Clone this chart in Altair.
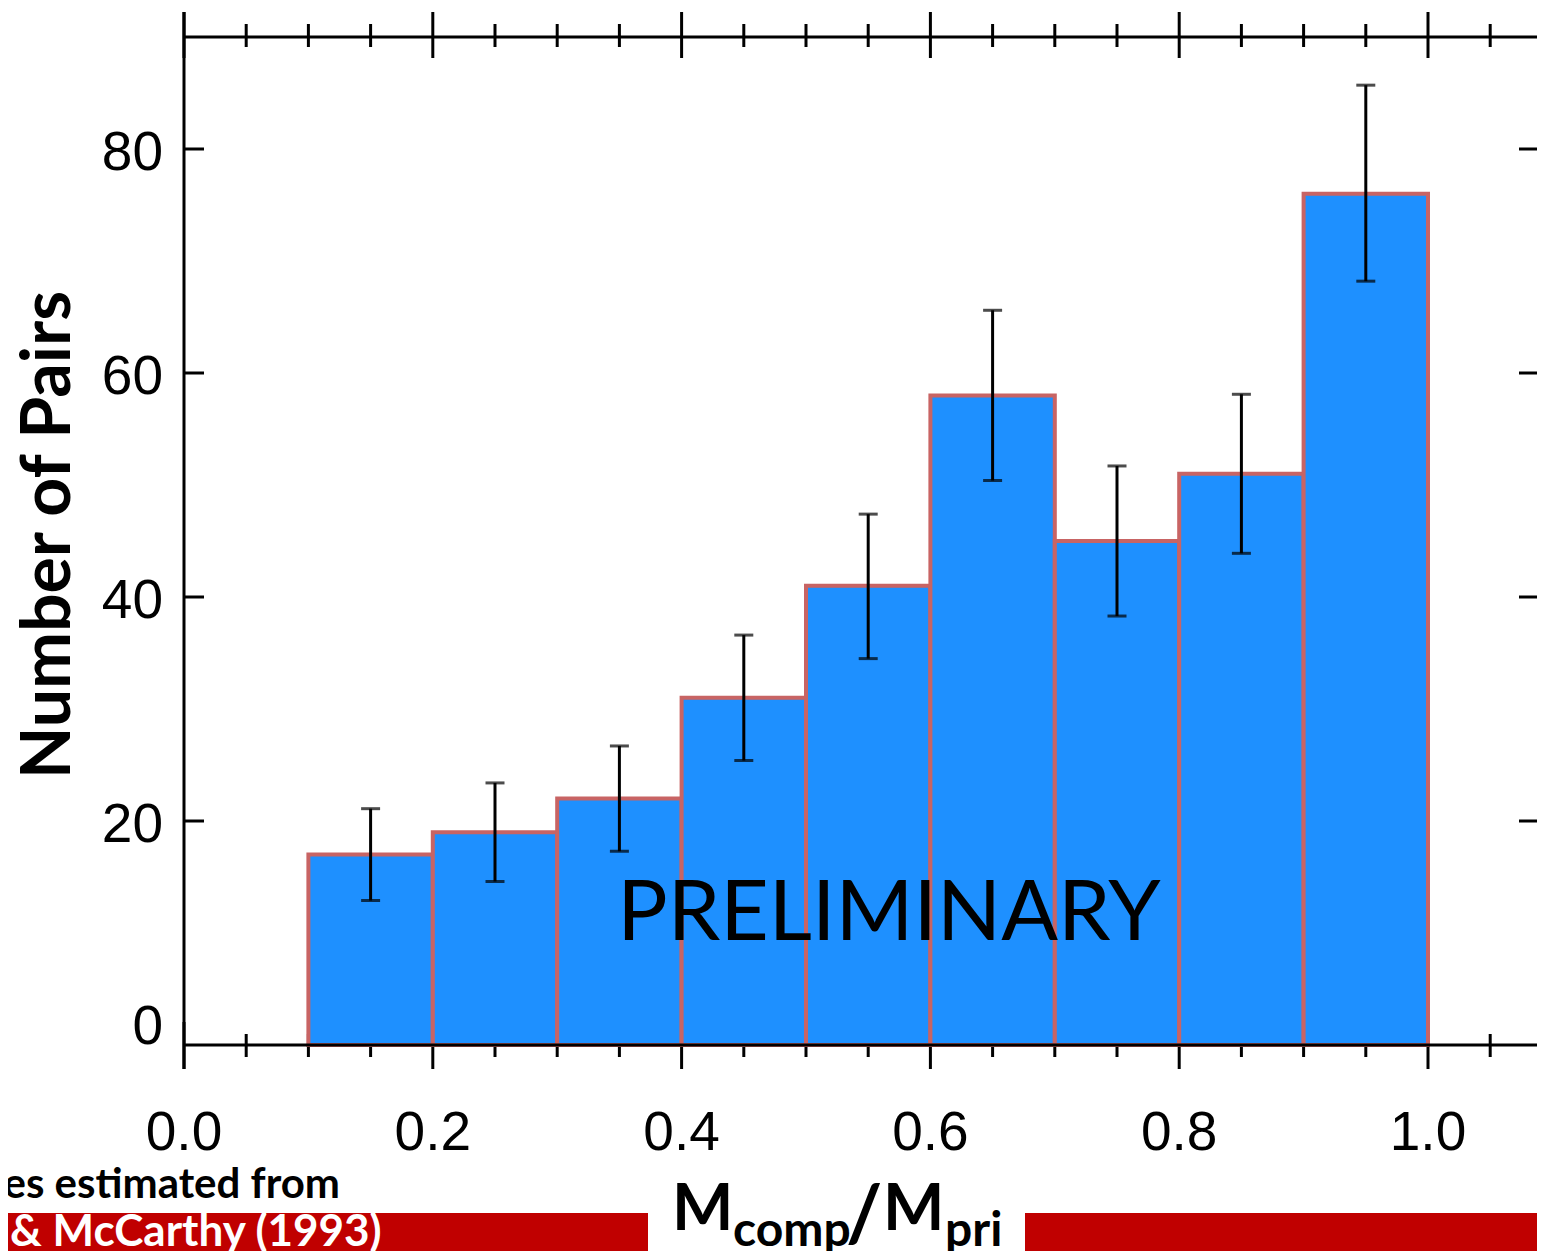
import altair as alt
import pandas as pd

# ---- data ----
bin_lo = [0.1, 0.2, 0.3, 0.4, 0.5, 0.6, 0.7, 0.8, 0.9]
bin_hi = [0.2, 0.3, 0.4, 0.5, 0.6, 0.7, 0.8, 0.9, 1.0]
bin_mid = [0.15, 0.25, 0.35, 0.45, 0.55, 0.65, 0.75, 0.85, 0.95]
counts = [17, 19, 22, 31, 41, 58, 45, 51, 76]
err_lo = [12.9, 14.6, 17.3, 25.4, 34.5, 50.4, 38.3, 43.9, 68.2]
err_hi = [21.1, 23.4, 26.7, 36.6, 47.4, 65.6, 51.7, 58.1, 85.7]

x_major = [0.0, 0.2, 0.4, 0.6, 0.8, 1.0]
x_major_labels = ["0.0", "0.2", "0.4", "0.6", "0.8", "1.0"]
x_minor = [0.05, 0.1, 0.15, 0.25, 0.3, 0.35, 0.45, 0.5, 0.55,
           0.65, 0.7, 0.75, 0.85, 0.9, 0.95, 1.05]
y_major = [0, 20, 40, 60, 80]
y_major_labels = ["0", "20", "40", "60", "80"]

W = 1353
H = 1008
X_MAX = W / 1244.0
Y_MAX = 90

xs = alt.Scale(domain=[0, X_MAX], nice=False, zero=False)
ys = alt.Scale(domain=[0, Y_MAX], nice=False, zero=False)

bars_df = pd.DataFrame({"lo": bin_lo, "hi": bin_hi, "mid": bin_mid,
                        "n": counts, "base": [0] * len(counts),
                        "elo": err_lo, "ehi": err_hi})
xmaj_df = pd.DataFrame({"v": x_major, "lab": x_major_labels})
xmin_df = pd.DataFrame({"v": x_minor})
ymaj_df = pd.DataFrame({"v": y_major, "lab": y_major_labels})
ytick_df = ymaj_df[ymaj_df.v > 0]
one = pd.DataFrame({"k": [0]})

BLACK = "#000000"

def X(field):
    return alt.X(field, type="quantitative", scale=xs, axis=None)

def Y(field):
    return alt.Y(field, type="quantitative", scale=ys, axis=None)

# bottom ticks (drawn first so bars cover their upper halves)
bot_major = alt.Chart(xmaj_df).mark_rule(color=BLACK, strokeWidth=3).encode(
    x=X("v"), y=alt.value(H - 23), y2=alt.value(H + 24))
bot_minor = alt.Chart(xmin_df).mark_rule(color=BLACK, strokeWidth=3).encode(
    x=X("v"), y=alt.value(H - 11), y2=alt.value(H + 12))
top_major = alt.Chart(xmaj_df).mark_rule(color=BLACK, strokeWidth=3).encode(
    x=X("v"), y=alt.value(-25), y2=alt.value(21))
top_minor = alt.Chart(xmin_df).mark_rule(color=BLACK, strokeWidth=3).encode(
    x=X("v"), y=alt.value(-13), y2=alt.value(10))

bottom_line = alt.Chart(one).mark_rule(color=BLACK, strokeWidth=3).encode(
    x=alt.value(0), x2=alt.value(W), y=alt.value(H))
top_line = alt.Chart(one).mark_rule(color=BLACK, strokeWidth=3).encode(
    x=alt.value(0), x2=alt.value(W), y=alt.value(0))
left_line = alt.Chart(one).mark_rule(color=BLACK, strokeWidth=3).encode(
    x=alt.value(0), y=alt.value(-25), y2=alt.value(H + 24))

left_ticks = alt.Chart(ytick_df).mark_rule(color=BLACK, strokeWidth=3).encode(
    y=Y("v"), x=alt.value(0), x2=alt.value(20))
right_ticks = alt.Chart(ytick_df).mark_rule(color=BLACK, strokeWidth=3).encode(
    y=Y("v"), x=alt.value(W - 18), x2=alt.value(W))

bars = alt.Chart(bars_df).mark_rect(fill="#1E90FF", stroke="#C86464",
                                    strokeWidth=4).encode(
    x=X("lo"), x2="hi", y=Y("n"), y2="base")

err_rule = alt.Chart(bars_df).mark_rule(color=BLACK, strokeWidth=3).encode(
    x=X("mid"), y=Y("elo"), y2="ehi")
cap_lo = alt.Chart(bars_df).mark_tick(color=BLACK, orient="horizontal",
                                      size=19, thickness=3).encode(
    x=X("mid"), y=Y("elo"))
cap_hi = alt.Chart(bars_df).mark_tick(color=BLACK, orient="horizontal",
                                      size=19, thickness=3).encode(
    x=X("mid"), y=Y("ehi"))

# tick labels
x_labels = alt.Chart(xmaj_df).mark_text(font="Liberation Sans", fontSize=55,
                                        color=BLACK, baseline="middle",
                                        align="center").encode(
    x=X("v"), y=alt.value(H + 88), text="lab:N")
y_labels = alt.Chart(ymaj_df[ymaj_df.v > 0]).mark_text(
    font="Liberation Sans", fontSize=55, color=BLACK, baseline="middle",
    align="right", dy=4).encode(
    y=Y("v"), x=alt.value(-21), text="lab:N")
y_label0 = alt.Chart(ymaj_df[ymaj_df.v == 0]).mark_text(
    font="Liberation Sans", fontSize=55, color=BLACK, baseline="middle",
    align="right", dy=-18).encode(
    y=Y("v"), x=alt.value(-21), text="lab:N")

# titles and annotations
y_title = alt.Chart(pd.DataFrame({"t": ["Number of Pairs"]})).mark_text(
    font="Lato", fontWeight="bold", fontSize=68, color=BLACK, angle=270,
    baseline="middle", align="center").encode(
    x=alt.value(-134), y=alt.value(498), text="t:N")

prelim = alt.Chart(pd.DataFrame({"t": ["PRELIMINARY"]})).mark_text(
    font="Lato", fontSize=84, color=BLACK, baseline="middle",
    align="center").encode(
    x=alt.value(705), y=alt.value(878), text="t:N")

def piece(txt, x, y, size, weight="bold"):
    return alt.Chart(pd.DataFrame({"t": [txt]})).mark_text(
        font="Lato", fontWeight=weight, fontSize=size, color=BLACK,
        baseline="alphabetic", align="left").encode(
        x=alt.value(x), y=alt.value(y), text="t:N")

t_M1 = piece("M", 488, 1193, 65)
t_comp = piece("comp", 549, 1209, 48)
t_slash = piece("/", 662, 1204, 78, "bold")
t_M2 = piece("M", 699, 1193, 65)
t_pri = piece("pri", 761, 1209, 48)

red_left = alt.Chart(one).mark_rect(color="#C00000").encode(
    x=alt.value(-190), x2=alt.value(464), y=alt.value(1176), y2=alt.value(1230))
red_right = alt.Chart(one).mark_rect(color="#C00000").encode(
    x=alt.value(841), x2=alt.value(W + 10), y=alt.value(1176), y2=alt.value(1230))

note1 = alt.Chart(pd.DataFrame({"t": ["es estimated from"]})).mark_text(
    font="Lato", fontWeight="bold", fontSize=42, color=BLACK,
    baseline="alphabetic", align="right").encode(
    x=alt.value(156), y=alt.value(1161), text="t:N")
note2 = alt.Chart(pd.DataFrame({"t": ["& McCarthy (1993)"]})).mark_text(
    font="Lato", fontWeight="bold", fontSize=44, color="#FFFFFF",
    baseline="alphabetic", align="left").encode(
    x=alt.value(-174), y=alt.value(1209), text="t:N")

chart = alt.layer(
    bot_major, bot_minor, top_major, top_minor,
    bars,
    bottom_line, top_line, left_line, left_ticks, right_ticks,
    err_rule, cap_lo, cap_hi,
    x_labels, y_labels, y_label0,
    y_title, prelim,
    red_left, red_right, note1, note2,
    t_M1, t_comp, t_slash, t_M2, t_pri,
).properties(
    width=W, height=H,
    autosize=alt.AutoSizeParams(type="none"),
    padding={"left": 176, "top": 29, "right": 0, "bottom": 206},
    background="white",
).configure_view(stroke="transparent")

chart.save("out.html", embed_options={"renderer": "svg", "actions": False})
